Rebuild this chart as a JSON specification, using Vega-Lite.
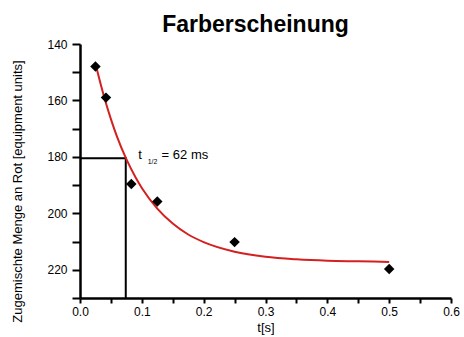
{
  "$schema": "https://vega.github.io/schema/vega-lite/v6.json",
  "autosize": "none",
  "width": 371,
  "height": 254,
  "padding": {"left": 80, "top": 44, "right": 13, "bottom": 39},
  "background": "white",
  "config": {
    "view": {"stroke": null},
    "axis": {"grid": false, "domainColor": "black", "domainWidth": 2.5, "tickColor": "black", "tickWidth": 2, "labelColor": "black", "titleColor": "black", "labelFont": "Liberation Sans", "titleFont": "Liberation Sans", "labelFontSize": 12, "titleFontSize": 13, "titleFontWeight": "normal"}
  },
  "title": {"text": "Farberscheinung", "fontSize": 23, "fontWeight": "bold", "font": "Liberation Sans", "anchor": "middle", "dx": -10, "offset": 1, "color": "black"},
  "datasets": {
    "points": [
      {"t": 0.025, "v": 148},
      {"t": 0.042, "v": 159},
      {"t": 0.083, "v": 189.6},
      {"t": 0.125, "v": 195.8},
      {"t": 0.25, "v": 210.2},
      {"t": 0.5, "v": 219.7}
    ],
    "fit": [
      {"t": 0.025, "v": 147.0},
      {"t": 0.04, "v": 159.5},
      {"t": 0.05, "v": 166.6},
      {"t": 0.06, "v": 172.9},
      {"t": 0.075, "v": 180.8},
      {"t": 0.09, "v": 187.3},
      {"t": 0.1, "v": 191.0},
      {"t": 0.125, "v": 198.3},
      {"t": 0.15, "v": 203.6},
      {"t": 0.175, "v": 207.5},
      {"t": 0.2, "v": 210.2},
      {"t": 0.25, "v": 213.6},
      {"t": 0.3, "v": 215.4},
      {"t": 0.35, "v": 216.3},
      {"t": 0.4, "v": 216.8},
      {"t": 0.45, "v": 217.0},
      {"t": 0.5, "v": 217.2}
    ],
    "guide": [
      {"t": 0.0, "v": 180.5, "o": 1},
      {"t": 0.074, "v": 180.5, "o": 2},
      {"t": 0.074, "v": 230, "o": 3}
    ],
    "labels": [
      {"t": 0.0943, "v": 179.2, "label": "t"},
      {"t": 0.132, "v": 179.2, "label": "= 62 ms"}
    ],
    "sub": [
      {"t": 0.1095, "v": 181.8, "label": "1/2"}
    ]
  },
  "encoding": {
    "x": {"field": "t", "type": "quantitative", "scale": {"domain": [0, 0.6], "nice": false},
      "axis": {"title": "t[s]", "tickCount": 12, "labelFlush": false, "labelOverlap": false,
        "labelExpr": "abs(datum.value*10 - round(datum.value*10)) < 0.000001 ? format(datum.value, '.1f') : ''",
        "tickSize": 5,
        "labelPadding": 3, "titleBaseline": "middle", "titleY": 29, "titlePadding": 0}},
    "y": {"field": "v", "type": "quantitative", "scale": {"domain": [140, 230], "nice": false, "reverse": true, "zero": false},
      "axis": {"title": "Zugemischte Menge an Rot [equipment units]", "tickCount": 9, "labelOverlap": false, "labelFlush": false,
        "labelExpr": "datum.value % 20 == 0 && datum.value < 230 ? datum.label : ''",
        "tickSize": 8,
        "labelPadding": 5, "titleX": -63, "titleY": 147, "titleBaseline": "middle", "titleAngle": 270}}
  },
  "layer": [
    {
      "data": {"name": "guide"},
      "mark": {"type": "line", "color": "black", "strokeWidth": 2, "clip": false},
      "encoding": {"order": {"field": "o"}}
    },
    {
      "data": {"name": "fit"},
      "mark": {"type": "line", "color": "#d42020", "strokeWidth": 2, "interpolate": "monotone"},
      "encoding": {}
    },
    {
      "data": {"name": "points"},
      "mark": {"type": "point", "shape": "diamond", "filled": true, "color": "black", "opacity": 1, "size": 110},
      "encoding": {}
    },
    {
      "data": {"name": "labels"},
      "mark": {"type": "text", "align": "left", "baseline": "middle", "fontSize": 13, "color": "black", "font": "Liberation Sans"},
      "encoding": {"text": {"field": "label"}}
    },
    {
      "data": {"name": "sub"},
      "mark": {"type": "text", "align": "left", "baseline": "middle", "fontSize": 7, "color": "black", "font": "Liberation Sans"},
      "encoding": {"text": {"field": "label"}}
    }
  ]
}
